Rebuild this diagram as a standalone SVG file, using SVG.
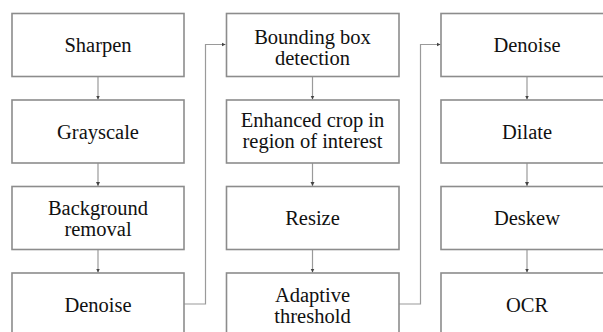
<svg xmlns="http://www.w3.org/2000/svg" width="603" height="332" viewBox="0 0 603 332">
<defs>
<marker id="ah" markerWidth="5" markerHeight="5" refX="4" refY="2.5" orient="auto" markerUnits="userSpaceOnUse">
<path d="M0,0.5 L4,2.5 L0,4.5 Z" fill="#444"/>
</marker>
<style>
.box{fill:#fff;stroke:#8c8c8c;stroke-width:1.6}
.t{font-size:20.5px;fill:#111;text-anchor:middle}
.c{fill:none;stroke:#9a9a9a;stroke-width:1.2;marker-end:url(#ah)}
</style>
</defs>
<rect width="603" height="332" fill="#fff"/>
<g id="connectors">
<path class="c" d="M98,77 V99.5"/>
<path class="c" d="M98,163 V186"/>
<path class="c" d="M98,249.5 V272.5"/>
<path class="c" d="M312.5,77 V99.5"/>
<path class="c" d="M312.5,163 V186"/>
<path class="c" d="M312.5,249.5 V272.5"/>
<path class="c" d="M527,77 V99.5"/>
<path class="c" d="M527,163 V186"/>
<path class="c" d="M527,249.5 V272.5"/>
<path class="c" d="M184,304 H205.5 V44.5 H225.5"/>
<path class="c" d="M399,304 H420.5 V44.5 H440.5"/>
</g>
<g font-family="Liberation Serif, Times New Roman, Tinos, Noto Serif, DejaVu Serif, serif">
<g id="n1"><rect class="box" x="12" y="13.5" width="172" height="63"/><text class="t" x="98" y="52">Sharpen</text></g>
<g id="n2"><rect class="box" x="12" y="100" width="172" height="63"/><text class="t" x="98" y="138.5">Grayscale</text></g>
<g id="n3"><rect class="box" x="12" y="186.5" width="172" height="63"/><text class="t" x="98" y="214.5">Background</text><text class="t" x="98" y="235.5">removal</text></g>
<g id="n4"><rect class="box" x="12" y="273" width="172" height="63"/><text class="t" x="98" y="311.5">Denoise</text></g>
<g id="n5"><rect class="box" x="226.5" y="13.5" width="172.5" height="63"/><text class="t" x="312.5" y="43.5">Bounding box</text><text class="t" x="312.5" y="64.5">detection</text></g>
<g id="n6"><rect class="box" x="226.5" y="100" width="172.5" height="63"/><text class="t" x="312.5" y="126.5">Enhanced crop in</text><text class="t" x="312.5" y="147.5">region of interest</text></g>
<g id="n7"><rect class="box" x="226.5" y="186.5" width="172.5" height="63"/><text class="t" x="312.5" y="225">Resize</text></g>
<g id="n8"><rect class="box" x="226.5" y="273" width="172.5" height="63"/><text class="t" x="312.5" y="301.5">Adaptive</text><text class="t" x="312.5" y="322.5">threshold</text></g>
<g id="n9"><rect class="box" x="441" y="13.5" width="172" height="63"/><text class="t" x="527" y="52">Denoise</text></g>
<g id="n10"><rect class="box" x="441" y="100" width="172" height="63"/><text class="t" x="527" y="138.5">Dilate</text></g>
<g id="n11"><rect class="box" x="441" y="186.5" width="172" height="63"/><text class="t" x="527" y="225">Deskew</text></g>
<g id="n12"><rect class="box" x="441" y="273" width="172" height="63"/><text class="t" x="527" y="311.5">OCR</text></g>
</g>
</svg>
